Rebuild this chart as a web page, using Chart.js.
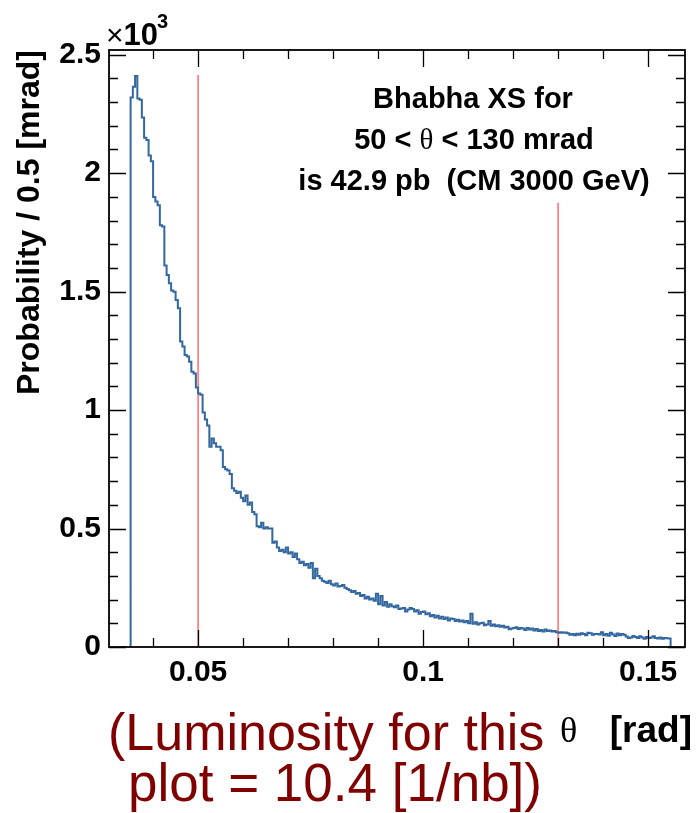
<!DOCTYPE html>
<html>
<head>
<meta charset="utf-8">
<script src="https://cdn.jsdelivr.net/npm/chart.js@4.4.1/dist/chart.umd.min.js"></script>
<style>
  html, body { margin: 0; padding: 0; background: #fff; }
  #wrap { width: 696px; height: 813px; }
</style>
</head>
<body>
<div id="wrap"><canvas id="myChart" width="696" height="813"></canvas></div>
<script>
// theta histogram, 0.5 mrad bins starting at 35 mrad
const binStart = 0.035;
const binWidth = 0.0005;
const probPerBin = [
  2320, 2365, 2410, 2315, 2310, 2235, 2150, 2140, 2075, 2050,
  1900, 1880, 1865, 1780, 1775, 1610, 1570, 1535, 1505, 1500,
  1465, 1430, 1290, 1268, 1233, 1226, 1204, 1162, 1155, 1095,
  1070, 1065, 990, 960, 935, 845, 880, 860, 845, 845,
  830, 760, 750, 745, 730, 670, 660, 650, 655, 630,
  615, 640, 600, 610, 570, 560, 510, 505, 525, 500,
  505, 500, 500, 440, 445, 420, 405, 410, 400, 420,
  395, 400, 380, 395, 370, 355, 360, 345, 350, 335,
  355, 290, 330, 300, 290, 280, 275, 270, 280, 265,
  260, 268, 255, 258, 262, 250, 245, 240, 232, 236,
  225, 228, 215, 220, 205, 212, 200, 205, 195, 225,
  180, 215, 175, 190, 170, 180, 172, 168, 175, 160,
  162, 165, 150, 158, 165, 160, 150, 155, 140, 148,
  150, 138, 142, 130, 135, 125, 132, 120, 128, 118,
  125, 112, 120, 118, 110, 115, 108, 112, 105, 110,
  100, 140, 98, 105, 95, 100, 102, 92, 95, 110,
  90, 95, 88, 92, 85, 90, 82, 85, 75, 78,
  80, 83, 76, 80, 78, 72, 80, 74, 78, 70,
  76, 68, 72, 65, 74, 68, 70, 65, 68, 62,
  60, 62, 60, 61, 58, 52, 55, 50, 56, 52,
  58, 55, 50, 60, 58, 52, 55, 55, 53, 62,
  50, 55, 48, 60, 53, 46, 57, 50, 55, 52,
  44, 38, 40, 46, 42, 38, 45, 40, 35, 42,
  38, 40, 45, 38, 36, 40, 35, 38, 37, 36
];

// acceptance cut lines (theta, top of line)
const cutTheta = [0.05, 0.13];
const cutTop = [2415, 1875];

const yTickValues = [0, 500, 1000, 1500, 2000, 2500];
const xTickValues = [0.05, 0.1, 0.15];

const histPoints = [{ x: binStart, y: 0 }];
probPerBin.forEach((v, i) => histPoints.push({ x: binStart + i * binWidth, y: v }));
const binEnd = binStart + probPerBin.length * binWidth;
histPoints.push({ x: binEnd, y: probPerBin[probPerBin.length - 1] });
histPoints.push({ x: binEnd, y: 0 });

const cutSets = cutTheta.map((t, i) => ({
  data: [{ x: t, y: 0 }, { x: t, y: cutTop[i] }],
  borderColor: '#ff6b6b',
  borderWidth: 1.5,
  pointRadius: 0,
  order: 2
}));

const FONT = '"Liberation Sans", Arial, sans-serif';
const SERIF = '"Liberation Serif", "Times New Roman", serif';

// inward ticks on all four sides, like a ROOT frame
const frameTicks = {
  id: 'frameTicks',
  afterDatasetsDraw(chart) {
    const { ctx, chartArea: a, scales: { x, y } } = chart;
    ctx.save();
    ctx.strokeStyle = '#000';
    ctx.lineWidth = 1.3;
    ctx.beginPath();
    for (let k = 3; k <= 16; k++) {
      const px = Math.round(x.getPixelForValue(k / 100)) + 0.5;
      if (px < a.left + 1 || px > a.right - 1) continue;
      const len = k % 5 === 0 ? 17 : 9;
      ctx.moveTo(px, a.bottom); ctx.lineTo(px, a.bottom - len);
      ctx.moveTo(px, a.top); ctx.lineTo(px, a.top + len);
    }
    for (let k = 0; k <= 25; k++) {
      const py = Math.round(y.getPixelForValue(k * 100)) + 0.5;
      const len = k % 5 === 0 ? 17 : 9;
      ctx.moveTo(a.left, py); ctx.lineTo(a.left + len, py);
      ctx.moveTo(a.right, py); ctx.lineTo(a.right - len, py);
    }
    ctx.stroke();
    ctx.lineWidth = 1.8;
    ctx.strokeRect(a.left, a.top, a.right - a.left, a.bottom - a.top);
    ctx.restore();
  }
};

function drawRuns(ctx, runs, cx, baseY, align) {
  let w = 0;
  runs.forEach(r => { ctx.font = r.font; w += ctx.measureText(r.text).width; });
  let xx = align === 'right' ? cx - w : (align === 'left' ? cx : cx - w / 2);
  ctx.textAlign = 'left';
  runs.forEach(r => {
    ctx.font = r.font;
    ctx.fillText(r.text, xx, baseY);
    xx += ctx.measureText(r.text).width;
  });
  return xx;
}

const notes = {
  id: 'notes',
  afterDraw(chart) {
    const ctx = chart.ctx;
    ctx.save();
    ctx.fillStyle = '#000';
    ctx.textBaseline = 'alphabetic';

    // axis multiplier
    const endX = drawRuns(ctx, [
      { text: '\u00d7', font: '30px ' + FONT },
      { text: '10', font: 'bold 31px ' + FONT }
    ], 106, 45, 'left');
    ctx.font = 'bold 20px ' + FONT;
    ctx.fillText('3', endX - 1, 28);

    const b = 'bold 29px ' + FONT;
    drawRuns(ctx, [{ text: 'Bhabha XS for', font: b }], 473, 108, 'center');
    drawRuns(ctx, [
      { text: '50 < ', font: b },
      { text: '\u03b8', font: '29px ' + SERIF },
      { text: ' < 130 mrad', font: b }
    ], 474, 149, 'center');
    drawRuns(ctx, [{ text: 'is 42.9 pb  (CM 3000 GeV)', font: b }], 474, 190, 'center');

    // x axis title
    drawRuns(ctx, [{ text: '\u03b8', font: '36px ' + SERIF }], 560, 742, 'left');
    drawRuns(ctx, [{ text: '[rad]', font: 'bold 37px ' + FONT }], 692, 742, 'right');

    ctx.fillStyle = '#800000';
    drawRuns(ctx, [{ text: '(Luminosity for this', font: '52px ' + FONT }], 108, 750, 'left');
    drawRuns(ctx, [{ text: 'plot = 10.4 [1/nb])', font: '53px ' + FONT }], 128, 801, 'left');
    ctx.restore();
  }
};

new Chart(document.getElementById('myChart').getContext('2d'), {
  type: 'line',
  data: {
    datasets: [
      {
        data: histPoints,
        stepped: 'before',
        borderColor: '#33679f',
        borderWidth: 2,
        pointRadius: 0,
        order: 1
      },
      ...cutSets
    ]
  },
  options: {
    responsive: false,
    animation: false,
    devicePixelRatio: 1,
    layout: { padding: { top: 50, right: 11, left: 0, bottom: 0 } },
    plugins: { legend: { display: false }, tooltip: { enabled: false } },
    scales: {
      x: {
        type: 'linear',
        min: 0.0302,
        max: 0.1582,
        grid: { display: false, drawTicks: false },
        border: { display: false },
        afterBuildTicks: s => { s.ticks = xTickValues.map(v => ({ value: v })); },
        afterFit: s => { s.height = 166; },
        ticks: {
          color: '#000',
          padding: 8,
          maxRotation: 0,
          autoSkip: false,
          font: { family: FONT, size: 30, weight: 'bold' },
          callback: v => String(v)
        }
      },
      y: {
        type: 'linear',
        min: 0,
        max: 2520,
        grid: { display: false, drawTicks: false },
        border: { display: false },
        afterBuildTicks: s => { s.ticks = yTickValues.map(v => ({ value: v })); },
        afterFit: s => { s.width = 109; },
        ticks: {
          color: '#000',
          padding: 8,
          font: { family: FONT, size: 30, weight: 'bold' },
          callback: v => String(v / 1000)
        },
        title: {
          display: true,
          text: 'Probability / 0.5 [mrad]',
          align: 'end',
          color: '#000',
          padding: { top: 11, bottom: 0 },
          font: { family: FONT, size: 32, weight: 'bold' }
        }
      }
    }
  },
  plugins: [frameTicks, notes]
});
</script>
</body>
</html>
